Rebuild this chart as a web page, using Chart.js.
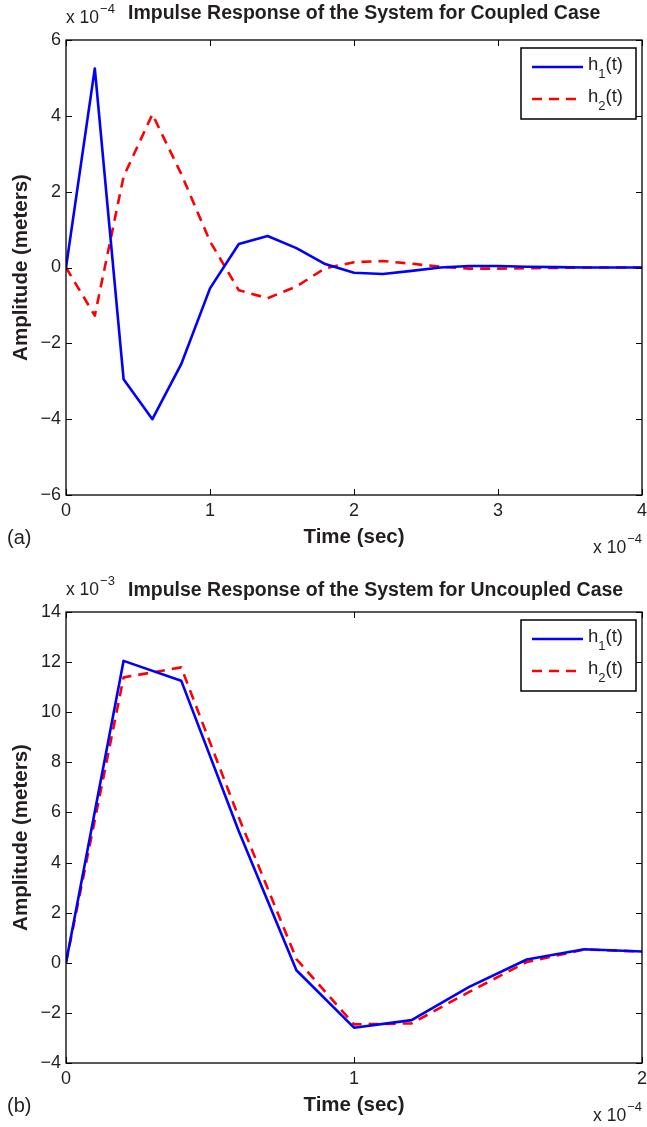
<!DOCTYPE html>
<html>
<head>
<meta charset="utf-8">
<script src="https://cdn.jsdelivr.net/npm/chart.js@4.4.1/dist/chart.umd.min.js"></script>
<style>
  html, body { margin: 0; padding: 0; background: #fff; }
  body { width: 647px; height: 1127px; position: relative; overflow: hidden; }
  .box { position: absolute; left: 0; width: 647px; }
  #boxA { top: 0; height: 560px; }
  #boxB { top: 560px; height: 567px; }
</style>
</head>
<body>
<div class="box" id="boxA"><canvas id="chartA"></canvas></div>
<div class="box" id="boxB"><canvas id="chartB"></canvas></div>
<script>
// ---------- DATA ----------
// (a) Coupled case: time in units of 1e-4 s, amplitude in units of 1e-4 m
const timeA = [0, 0.2, 0.4, 0.6, 0.8, 1.0, 1.2, 1.4, 1.6, 1.8, 2.0, 2.2, 2.4, 2.6, 2.8, 3.0, 3.2, 3.4, 3.6, 3.8, 4.0];
const h1A = [0, 5.25, -2.95, -4.0, -2.55, -0.55, 0.62, 0.83, 0.51, 0.09, -0.14, -0.17, -0.09, 0.0, 0.04, 0.04, 0.02, 0.01, 0.0, 0.0, 0.0];
const h2A = [0, -1.27, 2.4, 4.04, 2.47, 0.69, -0.6, -0.81, -0.5, -0.02, 0.14, 0.17, 0.1, 0.02, -0.03, -0.03, -0.02, -0.01, 0.0, 0.0, 0.0];
// (b) Uncoupled case: time in units of 1e-4 s, amplitude in units of 1e-3 m
const timeB = [0, 0.2, 0.4, 0.6, 0.8, 1.0, 1.2, 1.4, 1.6, 1.8, 2.0];
const h1B = [0, 12.05, 11.26, 5.25, -0.30, -2.59, -2.29, -0.96, 0.13, 0.54, 0.45];
const h2B = [0, 11.39, 11.79, 5.8, 0.15, -2.46, -2.42, -1.16, 0.03, 0.53, 0.45];
// labels
const seriesNames = ['h', 'h'];
const seriesSubs = ['1', '2'];
const titleA = 'Impulse Response of the System for Coupled Case';
const titleB = 'Impulse Response of the System for Uncoupled Case';
const xTitle = 'Time (sec)';
const yTitle = 'Amplitude (meters)';
const xExpA = '\u22124', yExpA = '\u22124';
const xExpB = '\u22124', yExpB = '\u22123';
const yRangeA = [-6, 6], xRangeA = [0, 4];
const yRangeB = [-4, 14], xRangeB = [0, 2];

// ---------- STYLE ----------
const FONT = '"Liberation Sans", Arial, Helvetica, sans-serif';
const BLUE = '#0000ff', RED = '#ff0000';
const TEXT = '#231f20';

function fmt(v) { return String(v).replace('-', '\u2212'); }

function toPts(xs, ys) { return xs.map((x, i) => ({ x: x, y: ys[i] })); }

function decorPlugin(cfg) {
  return {
    id: 'decor',
    afterDraw(chart) {
      const ctx = chart.ctx;
      const a = chart.chartArea;
      const xs = chart.scales.x, ys = chart.scales.y;
      ctx.save();
      // frame
      ctx.strokeStyle = '#000';
      ctx.lineWidth = 1.3;
      ctx.strokeRect(a.left, a.top, a.right - a.left, a.bottom - a.top);
      // inside ticks on all four sides
      const tl = 6;
      ctx.lineWidth = 1;
      ctx.beginPath();
      xs.ticks.forEach(t => {
        const px = Math.round(xs.getPixelForValue(t.value)) + 0.5;
        ctx.moveTo(px, a.bottom); ctx.lineTo(px, a.bottom - tl);
        ctx.moveTo(px, a.top); ctx.lineTo(px, a.top + tl);
      });
      ys.ticks.forEach(t => {
        const py = Math.round(ys.getPixelForValue(t.value)) + 0.5;
        ctx.moveTo(a.left, py); ctx.lineTo(a.left + tl, py);
        ctx.moveTo(a.right, py); ctx.lineTo(a.right - tl, py);
      });
      ctx.stroke();

      ctx.fillStyle = TEXT;
      ctx.textBaseline = 'middle';
      // title
      ctx.font = 'bold 19.5px ' + FONT;
      ctx.textAlign = 'left';
      ctx.fillText(cfg.title, cfg.titleX, a.top + cfg.titleDy);
      // top-left multiplier
      ctx.font = '17.5px ' + FONT;
      ctx.fillText('x 10', a.left, a.top - 22);
      let w = ctx.measureText('x 10').width;
      ctx.font = '13px ' + FONT;
      ctx.fillText(cfg.yExp, a.left + w + 1, a.top - 31);
      // bottom-right multiplier
      ctx.font = '17.5px ' + FONT;
      const w2 = ctx.measureText('x 10').width;
      ctx.font = '13px ' + FONT;
      const w3 = ctx.measureText(cfg.xExp).width;
      const sx = a.right - w2 - w3 - 1;
      ctx.font = '17.5px ' + FONT;
      ctx.fillText('x 10', sx, a.bottom + 53);
      ctx.font = '13px ' + FONT;
      ctx.fillText(cfg.xExp, sx + w2 + 1, a.bottom + 44);
      // panel label
      ctx.font = '20px ' + FONT;
      ctx.fillText(cfg.panel, 7, a.bottom + 43);
      // x title
      ctx.font = 'bold 20.5px ' + FONT;
      ctx.textAlign = 'center';
      ctx.fillText(xTitle, (a.left + a.right) / 2, a.bottom + 42);
      // y title
      ctx.save();
      ctx.translate(21, (a.top + a.bottom) / 2);
      ctx.rotate(-Math.PI / 2);
      ctx.fillText(yTitle, 0, 0);
      ctx.restore();

      // legend
      const lx = a.right - 121, ly = a.top + 8, lw = 115, lh = 71;
      ctx.fillStyle = '#fff';
      ctx.fillRect(lx, ly, lw, lh);
      ctx.strokeStyle = '#000';
      ctx.lineWidth = 1.5;
      ctx.strokeRect(lx, ly, lw, lh);
      chart.data.datasets.forEach((ds, i) => {
        const yy = ly + 19 + i * 32;
        ctx.save();
        ctx.strokeStyle = ds.borderColor;
        ctx.lineWidth = ds.borderWidth;
        ctx.setLineDash(ds.borderDash || []);
        ctx.beginPath();
        ctx.moveTo(lx + 11, yy); ctx.lineTo(lx + 62, yy);
        ctx.stroke();
        ctx.restore();
        ctx.fillStyle = TEXT;
        ctx.textAlign = 'left';
        ctx.font = '18.5px ' + FONT;
        let tx = lx + 67;
        ctx.fillText(seriesNames[i], tx, yy - 2);
        tx += ctx.measureText(seriesNames[i]).width;
        ctx.font = '13px ' + FONT;
        ctx.fillText(seriesSubs[i], tx, yy + 7);
        tx += ctx.measureText(seriesSubs[i]).width;
        ctx.font = '18.5px ' + FONT;
        ctx.fillText('(t)', tx, yy - 2);
      });
      ctx.restore();
    }
  };
}

function makeChart(id, xs, y1, y2, xr, yr, cfg) {
  return new Chart(document.getElementById(id), {
    type: 'line',
    data: {
      datasets: [
        { label: 'h1(t)', data: toPts(xs, y1), borderColor: BLUE, borderWidth: 2.6, borderJoinStyle: 'round', pointRadius: 0, tension: 0, fill: false },
        { label: 'h2(t)', data: toPts(xs, y2), borderColor: RED, borderWidth: 2.6, borderJoinStyle: 'round', borderDash: [10, 7], pointRadius: 0, tension: 0, fill: false }
      ]
    },
    options: {
      responsive: true,
      maintainAspectRatio: false,
      animation: false,
      events: [],
      layout: { padding: { top: cfg.padTop, right: 0, left: 0, bottom: 0 } },
      plugins: { legend: { display: false }, title: { display: false }, tooltip: { enabled: false } },
      scales: {
        x: {
          type: 'linear', min: xr[0], max: xr[1],
          grid: { display: false, drawTicks: false },
          border: { display: false },
          ticks: { stepSize: 1, color: TEXT, font: { family: FONT, size: 18 }, padding: 5, maxRotation: 0, callback: v => fmt(v) },
          afterFit: s => { s.height = cfg.xH; s.paddingRight = 5; s.paddingLeft = 0; }
        },
        y: {
          type: 'linear', min: yr[0], max: yr[1],
          grid: { display: false, drawTicks: false },
          border: { display: false },
          ticks: { stepSize: 2, color: TEXT, font: { family: FONT, size: 18 }, padding: 5, callback: v => fmt(v) },
          afterFit: s => { s.width = 66; s.paddingTop = 0; s.paddingBottom = 0; }
        }
      }
    },
    plugins: [decorPlugin(cfg)]
  });
}

makeChart('chartA', timeA, h1A, h2A, xRangeA, yRangeA,
  { padTop: 40, xH: 65, title: titleA, titleX: 128, titleDy: -26, yExp: yExpA, xExp: xExpA, panel: '(a)' });
makeChart('chartB', timeB, h1B, h2B, xRangeB, yRangeB,
  { padTop: 52, xH: 64, title: titleB, titleX: 128, titleDy: -21, yExp: yExpB, xExp: xExpB, panel: '(b)' });
</script>
</body>
</html>
